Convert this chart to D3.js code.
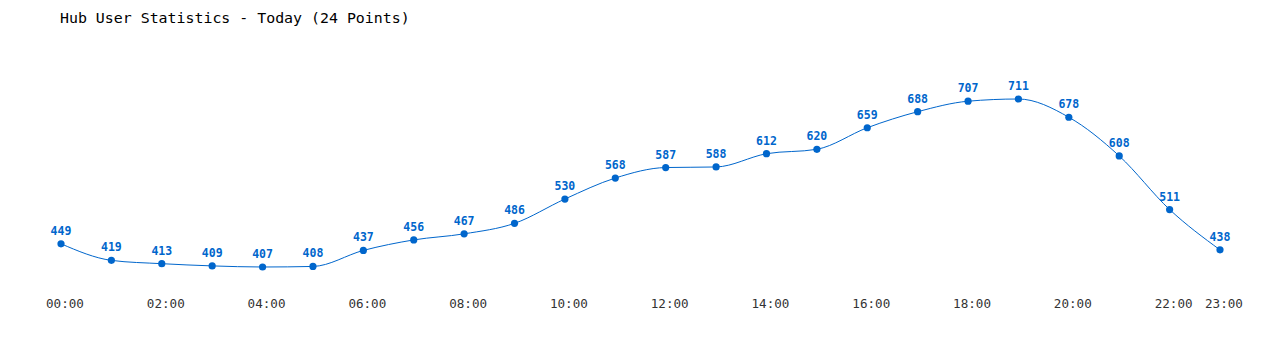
<!DOCTYPE html>
<html>
<head>
<meta charset="utf-8">
<script src="https://cdn.jsdelivr.net/npm/d3@7"></script>
<style>
  body { margin: 0; background: #fff; }
  svg { display: block; }
  .title { font-family: "DejaVu Sans Mono", monospace; font-size: 14.9px; fill: #000; }
  .tick-label { font-family: "DejaVu Sans Mono", monospace; font-size: 12.6px; fill: #333; }
  .val { font-family: "DejaVu Sans Mono", monospace; font-size: 11.5px; font-weight: bold; fill: #0066cc; }
</style>
</head>
<body>
<div id="chart"></div>
<script>
// hourly users, today
const hours = ["00:00","01:00","02:00","03:00","04:00","05:00","06:00","07:00","08:00","09:00","10:00","11:00",
               "12:00","13:00","14:00","15:00","16:00","17:00","18:00","19:00","20:00","21:00","22:00","23:00"];
const users = [449, 419, 413, 409, 407, 408, 437, 456, 467, 486, 530, 568,
               587, 588, 612, 620, 659, 688, 707, 711, 678, 608, 511, 438];
const tickLabels = ["00:00","02:00","04:00","06:00","08:00","10:00","12:00","14:00","16:00","18:00","20:00","22:00","23:00"];

const width = 1280, height = 350;

const svg = d3.select("#chart").append("svg")
    .attr("width", width)
    .attr("height", height);

svg.append("text")
    .attr("class", "title")
    .attr("x", 60)
    .attr("y", 23)
    .text("Hub User Statistics - Today (24 Points)");

var x = d3.scalePoint()
    .domain(hours)
    .range([61, 1220]);

var y = d3.scaleLinear()
    .domain([d3.min(users), d3.max(users)])
    .range([267, 99]);

var data = hours.map((h, i) => ({hour: h, value: users[i]}));

var line = d3.line()
    .x(d => x(d.hour))
    .y(d => y(d.value))
    .curve(d3.curveMonotoneX);

svg.append("path")
    .datum(data)
    .attr("d", line)
    .attr("fill", "none")
    .attr("stroke", "#0066cc")
    .attr("stroke-width", 1);

svg.selectAll("circle.pt")
    .data(data)
    .enter().append("circle")
    .attr("class", "pt")
    .attr("cx", d => x(d.hour))
    .attr("cy", d => y(d.value))
    .attr("r", 3.6)
    .attr("fill", "#0066cc");

svg.selectAll("text.val")
    .data(data)
    .enter().append("text")
    .attr("class", "val")
    .attr("x", d => x(d.hour))
    .attr("y", d => y(d.value) - 9)
    .attr("text-anchor", "middle")
    .text(d => d.value);

// x axis labels, no line
svg.selectAll("text.tick-label")
    .data(tickLabels)
    .enter().append("text")
    .attr("class", "tick-label")
    .attr("x", d => x(d) + 4)
    .attr("y", 308)
    .attr("text-anchor", "middle")
    .text(d => d);
</script>
</body>
</html>
